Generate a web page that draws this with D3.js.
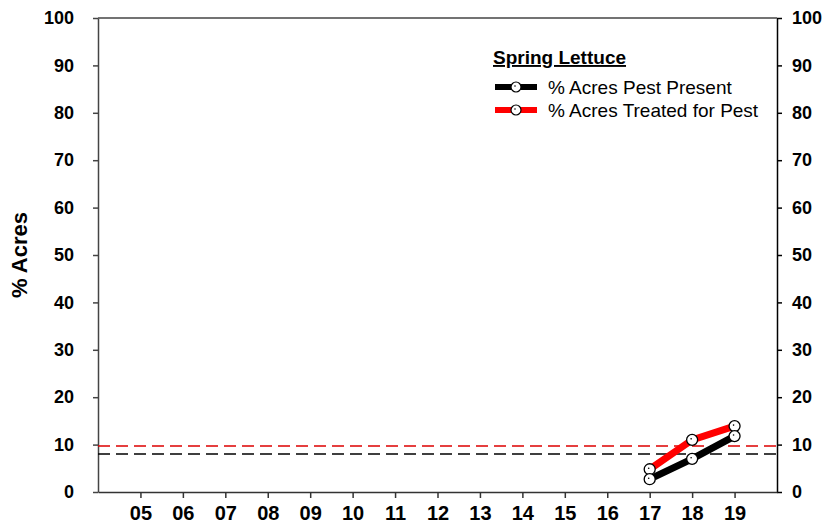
<!DOCTYPE html>
<html>
<head>
<meta charset="utf-8">
<script src="https://cdn.jsdelivr.net/npm/d3@7/dist/d3.min.js"></script>
<style>
  body { margin: 0; background: #fff; }
  text { font-family: Arial, "Liberation Sans", sans-serif; }
</style>
</head>
<body>
<svg id="chart" width="826" height="527"></svg>
<script>
// data
const years = [5, 6, 7, 8, 9, 10, 11, 12, 13, 14, 15, 16, 17, 18, 19]
const yTicks = [0, 10, 20, 30, 40, 50, 60, 70, 80, 90, 100]
const pestYears = [17, 18, 19]
const pestPresent = [2.7, 7.0, 11.8]
const pestTreated = [4.8, 11.0, 13.9]
const avgPresent = 8.0
const avgTreated = 9.7
const seriesNames = ['% Acres Pest Present', '% Acres Treated for Pest']
const seriesColors = ['#000000', '#ff0000']

const svg = d3.select('#chart')
const plotLeft = 98, plotRight = 777, plotTop = 18, plotBottom = 492

const x = d3.scaleLinear().domain([4, 20]).range([plotLeft, plotRight])
const y = d3.scaleLinear().domain([0, 100]).range([plotBottom, plotTop])

// axes
const leftAxis = svg.append('g').attr('transform', `translate(${plotLeft},0)`)
  .call(d3.axisLeft(y).tickValues(yTicks).tickSize(5).tickSizeOuter(0))
leftAxis.select('.domain').attr('stroke', '#444').attr('stroke-width', 1.5)
leftAxis.selectAll('.tick line').attr('stroke', '#444').attr('stroke-width', 1.5)
leftAxis.selectAll('text').attr('font-size', '18px').attr('font-weight', 'bold').attr('fill', '#000').attr('x', -24)

const rightAxis = svg.append('g').attr('transform', `translate(${plotRight},0)`)
  .call(d3.axisRight(y).tickValues(yTicks).tickSize(5).tickSizeOuter(0))
rightAxis.select('.domain').attr('stroke', '#000').attr('stroke-width', 1.5)
rightAxis.selectAll('.tick line').attr('stroke', '#000').attr('stroke-width', 1.5)
rightAxis.selectAll('text').attr('font-size', '18px').attr('font-weight', 'bold').attr('fill', '#000').attr('x', 15)

const bottomAxis = svg.append('g').attr('transform', `translate(0,${plotBottom})`)
  .call(d3.axisBottom(x).tickValues(years).tickSize(6).tickSizeOuter(0)
    .tickFormat(d => String(d).padStart(2, '0')))
bottomAxis.select('.domain').attr('stroke', '#333').attr('stroke-width', 1.5)
bottomAxis.selectAll('.tick line').attr('stroke', '#333').attr('stroke-width', 1.5)
bottomAxis.selectAll('text').attr('font-size', '20px').attr('font-weight', 'bold').attr('fill', '#000').attr('y', 14)

// top border
svg.append('line').attr('x1', plotLeft).attr('x2', plotRight).attr('y1', plotTop).attr('y2', plotTop)
  .attr('stroke', '#444').attr('stroke-width', 1.5)

// y title
svg.append('text')
  .attr('transform', `translate(27,${(plotTop + plotBottom) / 2}) rotate(-90)`)
  .attr('text-anchor', 'middle')
  .attr('font-size', '22px').attr('font-weight', 'bold')
  .text('% Acres')

// average reference lines
const avgs = [avgPresent, avgTreated]
svg.selectAll('.avg').data(avgs).enter().append('line')
  .attr('class', 'avg')
  .attr('x1', plotLeft).attr('x2', plotRight)
  .attr('y1', d => y(d)).attr('y2', d => y(d))
  .attr('stroke', (d, i) => i === 0 ? '#000' : '#dd0000')
  .attr('stroke-width', 1.5)
  .attr('stroke-dasharray', '12,6')

// series
const series = [pestPresent, pestTreated]
const line = d3.line().x((d, i) => x(pestYears[i])).y(d => y(d))

// red (treated) first then black, black sits on top like the picture
;[1, 0].forEach(s => {
  svg.append('path').datum(series[s])
    .attr('d', line)
    .attr('fill', 'none')
    .attr('stroke', seriesColors[s])
    .attr('stroke-width', 7)
})
;[1, 0].forEach(s => {
  const g = svg.append('g')
  g.selectAll('circle.m').data(series[s]).enter().append('circle')
    .attr('class', 'm')
    .attr('cx', (d, i) => x(pestYears[i]))
    .attr('cy', d => y(d))
    .attr('r', 5.5)
    .attr('fill', '#fff')
    .attr('stroke', '#000')
    .attr('stroke-width', 1.3)
  g.selectAll('circle.c').data(series[s]).enter().append('circle')
    .attr('class', 'c')
    .attr('cx', (d, i) => x(pestYears[i]) - 1)
    .attr('cy', d => y(d) - 1)
    .attr('r', 0.8)
    .attr('fill', '#000')
})

// legend
const legend = svg.append('g')
legend.append('text')
  .attr('x', 493).attr('y', 64)
  .attr('font-size', '19px').attr('font-weight', 'bold')
  .attr('text-decoration', 'underline')
  .text('Spring Lettuce')

seriesNames.forEach((name, i) => {
  const ly = 87 + i * 23
  legend.append('line')
    .attr('x1', 495).attr('x2', 537).attr('y1', ly).attr('y2', ly)
    .attr('stroke', seriesColors[i]).attr('stroke-width', 6)
  legend.append('circle')
    .attr('cx', 516).attr('cy', ly).attr('r', 5)
    .attr('fill', '#fff').attr('stroke', '#000').attr('stroke-width', 1.2)
  legend.append('circle')
    .attr('cx', 515).attr('cy', ly - 1).attr('r', 0.8).attr('fill', '#000')
  legend.append('text')
    .attr('x', 548).attr('y', ly + 7)
    .attr('font-size', '19px')
    .text(name)
})
</script>
</body>
</html>
